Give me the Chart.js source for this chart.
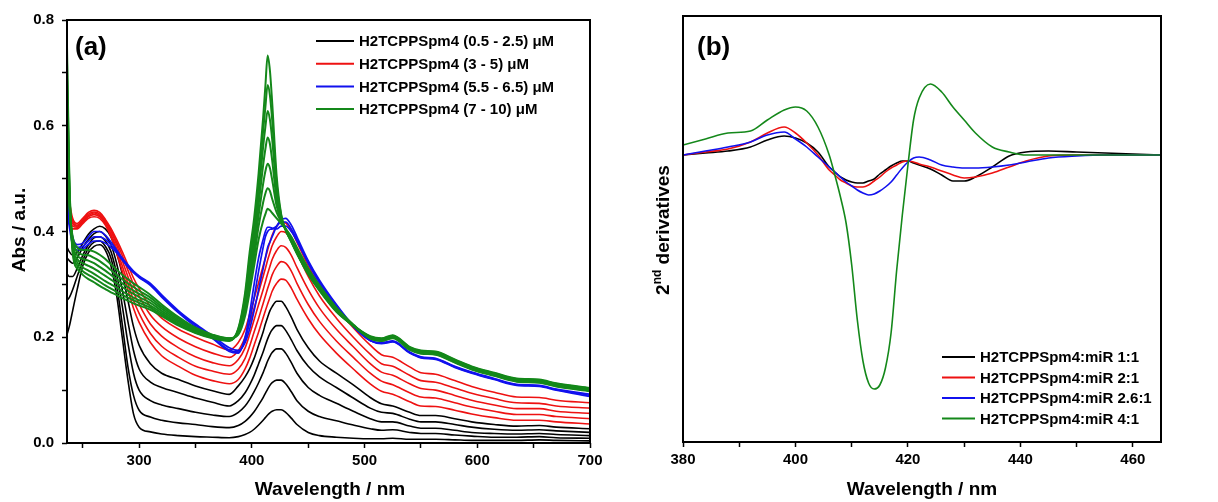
<!DOCTYPE html>
<html>
<head>
<meta charset="utf-8">
<script src="https://cdn.jsdelivr.net/npm/chart.js@4.4.0/dist/chart.umd.min.js"></script>
<style>
  body { margin: 0; background: #fff; }
  #wrapA { position: absolute; left: 0; top: 0; }
  #wrapB { position: absolute; left: 610px; top: 0; }
</style>
</head>
<body>
<div id="wrapA"><canvas id="chartA" width="610" height="502"></canvas></div>
<div id="wrapB"><canvas id="chartB" width="608" height="502"></canvas></div>
<script>
// ---- panel (a): UV-vis spectra, wavelength grid (nm) ----
const WL_A = [236, 238, 241, 245, 250, 255, 260, 265, 270, 275,
  280, 285, 290, 295, 300, 310, 320, 335, 350, 365,
  380, 388, 394, 398, 402, 406, 410, 412, 414, 416,
  418, 422, 426, 430, 435, 440, 450, 460, 475, 490,
  505, 515, 525, 540, 550, 563, 580, 595, 615, 635,
  655, 670, 700];

// black: 0.5 - 2.5 uM
const blackCurves = [
  [0.205,0.22,0.25,0.29,0.335,0.36,0.372,0.375,0.365,0.335,
   0.28,0.2,0.12,0.055,0.03,0.021,0.017,0.014,0.012,0.011,
   0.01,0.012,0.016,0.02,0.026,0.034,0.043,0.048,0.053,0.057,
   0.06,0.063,0.063,0.058,0.047,0.035,0.02,0.014,0.011,0.009,
   0.008,0.008,0.009,0.007,0.007,0.007,0.006,0.005,0.005,0.005,
   0.006,0.005,0.004],
  [0.27,0.275,0.29,0.315,0.345,0.368,0.38,0.382,0.372,0.35,
   0.3,0.225,0.145,0.09,0.062,0.049,0.043,0.038,0.035,0.031,
   0.029,0.033,0.041,0.049,0.059,0.072,0.086,0.094,0.102,0.109,
   0.114,0.119,0.119,0.112,0.097,0.08,0.06,0.05,0.042,0.034,
   0.027,0.024,0.025,0.02,0.018,0.018,0.015,0.013,0.011,0.011,
   0.012,0.01,0.009],
  [0.32,0.315,0.315,0.33,0.355,0.375,0.388,0.39,0.382,0.362,
   0.32,0.26,0.19,0.132,0.1,0.08,0.072,0.065,0.058,0.053,
   0.05,0.058,0.07,0.082,0.097,0.114,0.133,0.144,0.155,0.164,
   0.171,0.178,0.178,0.17,0.152,0.132,0.105,0.09,0.075,0.06,
   0.046,0.04,0.04,0.032,0.028,0.028,0.024,0.02,0.018,0.017,
   0.018,0.016,0.014],
  [0.35,0.345,0.34,0.35,0.37,0.385,0.396,0.4,0.392,0.375,
   0.34,0.29,0.23,0.175,0.14,0.115,0.105,0.095,0.085,0.077,
   0.07,0.08,0.095,0.11,0.128,0.15,0.172,0.185,0.197,0.207,
   0.214,0.222,0.222,0.213,0.195,0.175,0.145,0.125,0.105,0.085,
   0.066,0.058,0.056,0.045,0.04,0.04,0.035,0.03,0.026,0.024,
   0.025,0.023,0.02],
  [0.37,0.362,0.355,0.36,0.378,0.395,0.405,0.41,0.405,0.39,
   0.36,0.32,0.27,0.22,0.185,0.15,0.132,0.12,0.108,0.099,
   0.092,0.108,0.125,0.14,0.16,0.185,0.21,0.225,0.238,0.25,
   0.258,0.268,0.268,0.258,0.238,0.215,0.18,0.155,0.132,0.11,
   0.086,0.074,0.07,0.058,0.052,0.052,0.046,0.04,0.035,0.032,
   0.033,0.03,0.027]
];

// red: 3 - 5 uM
const redCurves = [
  [0.44,0.42,0.405,0.405,0.415,0.425,0.428,0.425,0.412,0.39,
   0.36,0.325,0.29,0.255,0.228,0.19,0.165,0.145,0.128,0.118,
   0.112,0.12,0.14,0.16,0.185,0.21,0.237,0.25,0.263,0.275,
   0.287,0.302,0.31,0.308,0.293,0.272,0.235,0.205,0.17,0.14,
   0.112,0.098,0.092,0.078,0.07,0.069,0.062,0.055,0.048,0.043,
   0.043,0.04,0.036],
  [0.455,0.43,0.41,0.408,0.418,0.428,0.432,0.428,0.415,0.395,
   0.368,0.335,0.302,0.27,0.245,0.207,0.183,0.162,0.145,0.136,
   0.13,0.14,0.16,0.183,0.21,0.236,0.264,0.278,0.292,0.305,
   0.318,0.334,0.343,0.34,0.325,0.302,0.262,0.23,0.193,0.162,
   0.132,0.117,0.11,0.095,0.087,0.085,0.076,0.068,0.06,0.054,
   0.054,0.05,0.046],
  [0.47,0.44,0.415,0.41,0.42,0.43,0.435,0.43,0.418,0.4,
   0.375,0.345,0.315,0.285,0.262,0.225,0.202,0.18,0.163,0.152,
   0.146,0.158,0.18,0.205,0.233,0.262,0.29,0.305,0.32,0.334,
   0.347,0.364,0.373,0.37,0.355,0.332,0.29,0.255,0.215,0.182,
   0.15,0.134,0.128,0.112,0.103,0.1,0.09,0.081,0.072,0.065,
   0.065,0.06,0.056],
  [0.485,0.45,0.42,0.412,0.422,0.433,0.437,0.433,0.42,0.403,
   0.38,0.355,0.327,0.3,0.278,0.242,0.22,0.198,0.182,0.17,
   0.162,0.175,0.2,0.226,0.255,0.285,0.315,0.33,0.346,0.36,
   0.373,0.39,0.4,0.398,0.383,0.36,0.315,0.278,0.236,0.2,
   0.168,0.15,0.145,0.128,0.118,0.115,0.104,0.094,0.084,0.076,
   0.075,0.07,0.066],
  [0.5,0.46,0.425,0.415,0.425,0.436,0.44,0.436,0.423,0.406,
   0.385,0.362,0.337,0.312,0.292,0.258,0.236,0.215,0.2,0.187,
   0.176,0.19,0.215,0.243,0.273,0.303,0.335,0.35,0.365,0.38,
   0.393,0.41,0.418,0.416,0.402,0.38,0.335,0.298,0.255,0.218,
   0.185,0.167,0.162,0.144,0.133,0.13,0.118,0.107,0.096,0.087,
   0.086,0.081,0.076]
];

// blue: 5.5 - 6.5 uM
const blueCurves = [
  [0.47,0.43,0.39,0.375,0.378,0.39,0.4,0.4,0.393,0.38,
   0.365,0.35,0.337,0.325,0.316,0.302,0.28,0.25,0.225,0.203,
   0.18,0.175,0.19,0.215,0.25,0.29,0.33,0.35,0.37,0.38,
   0.39,0.41,0.422,0.425,0.412,0.39,0.345,0.308,0.262,0.222,
   0.194,0.188,0.191,0.17,0.161,0.158,0.143,0.132,0.12,0.109,
   0.107,0.1,0.088],
  [0.45,0.42,0.38,0.37,0.372,0.382,0.39,0.39,0.385,0.375,
   0.362,0.348,0.335,0.323,0.314,0.3,0.278,0.248,0.223,0.2,
   0.176,0.172,0.195,0.23,0.275,0.325,0.37,0.39,0.4,0.404,
   0.405,0.41,0.418,0.418,0.405,0.385,0.342,0.305,0.26,0.221,
   0.194,0.189,0.192,0.171,0.162,0.159,0.144,0.133,0.121,0.11,
   0.108,0.101,0.09],
  [0.44,0.41,0.375,0.365,0.367,0.376,0.382,0.382,0.378,0.37,
   0.36,0.346,0.333,0.322,0.313,0.298,0.276,0.246,0.22,0.198,
   0.173,0.17,0.2,0.245,0.3,0.35,0.385,0.4,0.408,0.408,
   0.406,0.405,0.41,0.41,0.4,0.382,0.34,0.303,0.258,0.22,
   0.194,0.19,0.193,0.172,0.163,0.16,0.145,0.134,0.122,0.111,
   0.109,0.102,0.092]
];

// green: 7 - 10 uM
const greenCurves = [
  [0.55,0.45,0.39,0.37,0.365,0.365,0.362,0.356,0.348,0.338,
   0.328,0.318,0.31,0.302,0.295,0.28,0.262,0.238,0.218,0.205,
   0.198,0.205,0.24,0.285,0.335,0.385,0.42,0.433,0.443,0.44,
   0.435,0.425,0.415,0.405,0.39,0.37,0.33,0.298,0.256,0.224,
   0.198,0.193,0.198,0.176,0.169,0.167,0.152,0.139,0.127,0.116,
   0.114,0.107,0.098],
  [0.6,0.46,0.385,0.362,0.356,0.355,0.35,0.344,0.336,0.327,
   0.318,0.31,0.302,0.295,0.288,0.275,0.258,0.235,0.216,0.204,
   0.198,0.207,0.248,0.298,0.35,0.41,0.455,0.472,0.482,0.477,
   0.462,0.436,0.418,0.405,0.388,0.367,0.327,0.295,0.254,0.223,
   0.198,0.193,0.199,0.177,0.17,0.168,0.153,0.14,0.128,0.117,
   0.115,0.108,0.099],
  [0.63,0.47,0.38,0.355,0.348,0.345,0.34,0.333,0.326,0.318,
   0.31,0.302,0.295,0.288,0.282,0.27,0.254,0.232,0.214,0.202,
   0.197,0.209,0.256,0.31,0.365,0.43,0.49,0.514,0.528,0.52,
   0.498,0.448,0.42,0.404,0.386,0.364,0.325,0.293,0.252,0.222,
   0.198,0.194,0.2,0.178,0.171,0.169,0.154,0.141,0.129,0.118,
   0.116,0.109,0.1],
  [0.66,0.48,0.375,0.348,0.34,0.335,0.33,0.323,0.316,0.309,
   0.302,0.295,0.288,0.282,0.276,0.265,0.25,0.229,0.212,0.201,
   0.196,0.211,0.263,0.322,0.38,0.45,0.525,0.556,0.578,0.566,
   0.535,0.46,0.423,0.403,0.384,0.362,0.323,0.291,0.251,0.222,
   0.199,0.195,0.201,0.179,0.172,0.17,0.155,0.142,0.13,0.119,
   0.117,0.11,0.101],
  [0.69,0.49,0.37,0.342,0.332,0.326,0.32,0.313,0.306,0.3,
   0.294,0.287,0.281,0.275,0.27,0.26,0.246,0.226,0.21,0.2,
   0.195,0.213,0.27,0.335,0.395,0.47,0.56,0.598,0.628,0.612,
   0.575,0.475,0.427,0.403,0.382,0.36,0.321,0.29,0.25,0.222,
   0.2,0.196,0.202,0.18,0.173,0.171,0.156,0.143,0.131,0.12,
   0.118,0.111,0.102],
  [0.72,0.5,0.365,0.336,0.325,0.318,0.312,0.305,0.298,0.292,
   0.286,0.28,0.275,0.27,0.265,0.256,0.243,0.224,0.209,0.199,
   0.194,0.215,0.277,0.347,0.41,0.49,0.59,0.635,0.677,0.658,
   0.612,0.49,0.43,0.403,0.381,0.359,0.32,0.289,0.249,0.222,
   0.201,0.197,0.203,0.181,0.174,0.172,0.157,0.144,0.132,0.121,
   0.119,0.112,0.103],
  [0.75,0.51,0.36,0.33,0.318,0.31,0.304,0.297,0.291,0.285,
   0.28,0.274,0.269,0.264,0.26,0.252,0.24,0.222,0.208,0.198,
   0.193,0.217,0.284,0.36,0.425,0.51,0.615,0.675,0.733,0.705,
   0.645,0.505,0.433,0.403,0.38,0.358,0.319,0.288,0.248,0.222,
   0.202,0.198,0.204,0.182,0.175,0.173,0.158,0.145,0.133,0.122,
   0.12,0.113,0.104]
];

const legendA = ['H2TCPPSpm4 (0.5 - 2.5) \u03BCM', 'H2TCPPSpm4 (3 - 5) \u03BCM',
  'H2TCPPSpm4 (5.5 - 6.5) \u03BCM', 'H2TCPPSpm4 (7 - 10) \u03BCM'];

// ---- panel (b): 2nd derivatives (arbitrary units) ----
const WL_B = [380, 384, 388, 392, 395, 398, 400, 402, 404, 406,
  407, 408, 409, 410, 411, 412, 413, 414, 415, 416,
  417, 418, 419, 420, 421, 422, 424, 426, 428, 430,
  432, 435, 438, 441, 445, 450, 455, 460, 465];

const d2Ratio1 = [0.0,0.02,0.04,0.08,0.15,0.19,0.17,0.12,0.03,-0.12,
  -0.17,-0.22,-0.25,-0.27,-0.28,-0.28,-0.26,-0.24,-0.19,-0.15,
  -0.11,-0.08,-0.06,-0.06,-0.08,-0.1,-0.14,-0.2,-0.26,-0.26,
  -0.22,-0.12,-0.01,0.03,0.04,0.03,0.02,0.01,0.0];
const d2Ratio2 = [0.0,0.03,0.06,0.13,0.22,0.28,0.22,0.12,0.0,-0.15,
  -0.2,-0.25,-0.28,-0.31,-0.32,-0.32,-0.3,-0.26,-0.22,-0.17,
  -0.13,-0.1,-0.07,-0.06,-0.07,-0.09,-0.12,-0.16,-0.2,-0.23,
  -0.22,-0.18,-0.12,-0.06,-0.01,0.0,0.0,0.0,0.0];
const d2Ratio26 = [0.0,0.04,0.08,0.13,0.2,0.23,0.16,0.08,-0.02,-0.12,
  -0.17,-0.22,-0.27,-0.31,-0.35,-0.38,-0.4,-0.39,-0.36,-0.32,
  -0.27,-0.2,-0.13,-0.07,-0.03,-0.02,-0.05,-0.1,-0.12,-0.13,
  -0.13,-0.12,-0.1,-0.07,-0.03,-0.01,0.0,0.0,0.0];
const d2Ratio4 = [0.10,0.16,0.22,0.24,0.35,0.45,0.48,0.44,0.28,0.0,
  -0.2,-0.42,-0.68,-1.1,-1.65,-2.06,-2.28,-2.34,-2.3,-2.13,
  -1.78,-1.15,-0.6,-0.1,0.35,0.57,0.71,0.63,0.48,0.35,
  0.22,0.08,0.03,0.0,0.0,0.0,0.0,0.0,0.0];

const legendB = ['H2TCPPSpm4:miR 1:1', 'H2TCPPSpm4:miR 2:1',
  'H2TCPPSpm4:miR 2.6:1', 'H2TCPPSpm4:miR 4:1'];

const COLORS = ['#000000', '#ee1111', '#1111ee', '#14881a'];
const FONT = '"Liberation Sans", Arial, sans-serif';

const toPts = (xs, ys) => xs.map((x, i) => ({ x, y: ys[i] }));

function lineSet(xs, ys, color, order, width) {
  return {
    data: toPts(xs, ys),
    borderColor: color,
    borderWidth: width,
    pointRadius: 0,
    cubicInterpolationMode: 'monotone',
    order
  };
}

// frame + all custom text (legend, panel label, axis titles)
function deco(opts) {
  return {
    id: 'deco',
    afterDatasetsDraw(chart) {
      const { ctx, chartArea: a } = chart;
      ctx.save();
      ctx.strokeStyle = '#000';
      ctx.lineWidth = 2;
      ctx.strokeRect(a.left, a.top, a.right - a.left, a.bottom - a.top);
      ctx.restore();
    },
    afterDraw(chart) {
      const ctx = chart.ctx;
      ctx.save();
      ctx.fillStyle = '#000';
      // panel label
      ctx.font = 'bold 26px ' + FONT;
      ctx.textBaseline = 'middle';
      ctx.textAlign = 'left';
      ctx.fillText(opts.panel, opts.panelX, 48);
      // legend
      ctx.font = 'bold 15px ' + FONT;
      opts.legend.forEach((txt, i) => {
        const y = opts.legY + i * opts.legStep;
        ctx.strokeStyle = COLORS[i];
        ctx.lineWidth = 2;
        ctx.beginPath();
        ctx.moveTo(opts.legX1, y);
        ctx.lineTo(opts.legX2, y);
        ctx.stroke();
        ctx.fillText(txt, opts.legX2 + 5, y + 1);
      });
      // x title
      ctx.font = 'bold 19px ' + FONT;
      ctx.textAlign = 'center';
      ctx.fillText('Wavelength / nm', opts.xTitleX, 490);
      // y title (rotated)
      ctx.translate(opts.yTitleX, 230);
      ctx.rotate(-Math.PI / 2);
      if (opts.sup) {
        ctx.textAlign = 'left';
        ctx.font = 'bold 19px ' + FONT;
        const w1 = ctx.measureText('2').width;
        const w3 = ctx.measureText(' derivatives').width;
        ctx.font = 'bold 12px ' + FONT;
        const w2 = ctx.measureText('nd').width;
        let x = -(w1 + w2 + w3) / 2;
        ctx.font = 'bold 19px ' + FONT;
        ctx.fillText('2', x, 0);
        x += w1;
        ctx.font = 'bold 12px ' + FONT;
        ctx.fillText('nd', x, -6);
        x += w2;
        ctx.font = 'bold 19px ' + FONT;
        ctx.fillText(' derivatives', x, 0);
      } else {
        ctx.font = 'bold 19px ' + FONT;
        ctx.fillText(opts.yTitle, 0, 0);
      }
      ctx.restore();
    }
  };
}

const tickFont = { family: FONT, size: 15, weight: 'bold' };

// ---- chart (a) ----
const dsA = [];
greenCurves.forEach(c => dsA.push(lineSet(WL_A, c, COLORS[3], 0, 2)));
blueCurves.forEach(c => dsA.push(lineSet(WL_A, c, COLORS[2], 1, 1.7)));
redCurves.forEach(c => dsA.push(lineSet(WL_A, c, COLORS[1], 2, 1.6)));
blackCurves.forEach(c => dsA.push(lineSet(WL_A, c, COLORS[0], 3, 1.6)));

new Chart(document.getElementById('chartA'), {
  type: 'line',
  data: { datasets: dsA },
  options: {
    responsive: false,
    animation: false,
    layout: { padding: { top: 20, right: 20, left: 0, bottom: 0 } },
    plugins: { legend: { display: false }, tooltip: { enabled: false } },
    scales: {
      x: {
        type: 'linear', min: 236, max: 700,
        border: { display: false },
        grid: { drawOnChartArea: false, tickLength: 5, tickColor: '#000', tickWidth: 1.5 },
        ticks: {
          stepSize: 50, includeBounds: false, color: '#000', font: tickFont, padding: 4,
          maxRotation: 0, autoSkip: false,
          callback: v => (v % 100 === 0 ? String(v) : '')
        },
        afterFit: s => { s.height = 59; }
      },
      y: {
        min: 0, max: 0.8,
        border: { display: false },
        grid: { drawOnChartArea: false, tickLength: 5, tickColor: '#000', tickWidth: 1.5 },
        ticks: {
          stepSize: 0.1, color: '#000', font: tickFont, padding: 8, autoSkip: false,
          callback: v => (Math.round(v * 10) % 2 === 0 ? v.toFixed(1) : '')
        },
        afterFit: s => { s.width = 67; }
      }
    }
  },
  plugins: [deco({
    panel: '(a)', panelX: 75, legend: legendA,
    legX1: 316, legX2: 354, legY: 41, legStep: 22.7,
    xTitleX: 330, yTitleX: 20, yTitle: 'Abs / a.u.', sup: false
  })]
});

// ---- chart (b) ----
const seriesB = [d2Ratio1, d2Ratio2, d2Ratio26, d2Ratio4];
const dsB = seriesB.map((s, i) => lineSet(WL_B, s, COLORS[i], 3 - i, 1.6));

new Chart(document.getElementById('chartB'), {
  type: 'line',
  data: { datasets: dsB },
  options: {
    responsive: false,
    animation: false,
    layout: { padding: { top: 16, right: 57, left: 0, bottom: 0 } },
    plugins: { legend: { display: false }, tooltip: { enabled: false } },
    scales: {
      x: {
        type: 'linear', min: 380, max: 465,
        border: { display: false },
        grid: { drawOnChartArea: false, tickLength: 5, tickColor: '#000', tickWidth: 1.5 },
        ticks: {
          stepSize: 10, includeBounds: false, color: '#000', font: tickFont, padding: 4,
          maxRotation: 0, autoSkip: false,
          callback: v => (v % 20 === 0 ? String(v) : '')
        },
        afterFit: s => { s.height = 60; }
      },
      y: {
        min: -2.87, max: 1.39,
        border: { display: false },
        grid: { display: false },
        ticks: { display: false },
        afterFit: s => { s.width = 73; }
      }
    }
  },
  plugins: [deco({
    panel: '(b)', panelX: 87, legend: legendB,
    legX1: 332, legX2: 365, legY: 357, legStep: 20.5,
    xTitleX: 312, yTitleX: 54, sup: true
  })]
});
</script>
</body>
</html>
